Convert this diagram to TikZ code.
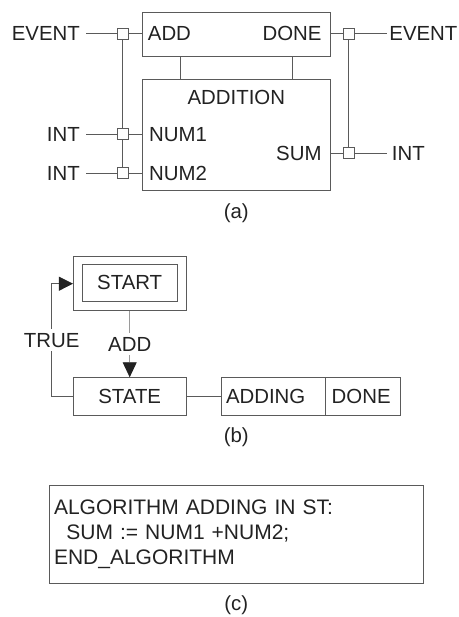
\documentclass[tikz,border=0pt]{standalone}
\usepackage{fontspec}
\setmainfont{Liberation Sans}
\usetikzlibrary{arrows.meta}
\definecolor{linec}{HTML}{5A5A5A}
\definecolor{lightline}{HTML}{9A9A9A}
\definecolor{txtc}{HTML}{222222}
\begin{document}
\begin{tikzpicture}[x=1pt,y=-1pt,
  every node/.style={font=\fontsize{20.4}{25}\selectfont, text=txtc},
  box/.style={draw=linec, line width=0.8pt, inner sep=0pt},
  port/.style={draw=linec, line width=0.8pt, fill=white, minimum size=11pt, inner sep=0pt},
  lbl/.style={inner sep=0pt, text height=14.6pt, text depth=0pt},
  wire/.style={draw=linec, line width=0.8pt}]
\useasboundingbox (0,0) rectangle (458,617);
% ---------- (a) ----------
\node[box, minimum width=187.3pt, minimum height=43.7pt] (top) at (236.35,34.15) {};
\node[box, minimum width=187.3pt, minimum height=111.7pt] (addb) at (236.35,134.85) {};
\draw[wire] ([xshift=-56.35pt]top.south) -- ([xshift=-56.35pt]addb.north);
\draw[wire] ([xshift=55.95pt]top.south) -- ([xshift=55.95pt]addb.north);
\node[port] (p1) at (122.8,33.7) {};
\node[port] (p2) at (122.8,134) {};
\node[port] (p3) at (122.8,173.3) {};
\node[port] (p4) at (348.5,33.7) {};
\node[port] (p5) at (348.5,153.3) {};
\node[lbl, anchor=east, inner xsep=6pt] (ev1) at (86,33.7) {EVENT};
\node[lbl, anchor=east, inner xsep=6pt] (in1) at (86,134) {INT};
\node[lbl, anchor=east, inner xsep=6pt] (in2) at (86,173.3) {INT};
\node[lbl, anchor=west, inner xsep=2.5pt] (ev2) at (386.7,33.7) {EVENT};
\node[lbl, anchor=west, inner xsep=5pt] (in3) at (386.7,153.3) {INT};
\draw[wire] (ev1.east) -- (p1.west);
\draw[wire] (in1.east) -- (p2.west);
\draw[wire] (in2.east) -- (p3.west);
\draw[wire] (p4.east) -- (ev2.west);
\draw[wire] (p5.east) -- (in3.west);
\draw[wire] (p1.east) -- (p1.east -| top.west);
\draw[wire] (p2.east) -- (p2.east -| addb.west);
\draw[wire] (p3.east) -- (p3.east -| addb.west);
\draw[wire] (p4.west) -- (p4.west -| top.east);
\draw[wire] (p5.west) -- (p5.west -| addb.east);
\draw[wire] (p1.south) -- (p2.north);
\draw[wire] (p2.south) -- (p3.north);
\draw[wire] (p4.south) -- (p5.north);
\node[lbl, anchor=west] (tadd) at (147.7,33.7) {ADD};
\node[lbl, anchor=east] (tdone) at (321.7,33.7) {DONE};
\node[lbl] (tadt) at (236.3,97.3) {ADDITION};
\node[lbl, anchor=west] (tn1) at (149,134) {NUM1};
\node[lbl, anchor=west] (tn2) at (149,173.3) {NUM2};
\node[lbl, anchor=east] (tsum) at (321.7,153.3) {SUM};
\node (capa) at (236.3,213) {(a)};
% ---------- (b) ----------
\node[box, minimum width=112.7pt, minimum height=54pt] (so) at (129.7,283.7) {};
\node[box, minimum width=94.7pt, minimum height=37pt] (si) at (129.7,282.8) {};
\node[lbl] (tstart) at (129.7,282.3) {START};
\node[box, minimum width=112.7pt, minimum height=37.3pt] (state) at (129.7,396.3) {};
\node[lbl] (tstate) at (129.7,396.3) {STATE};
\node[box, minimum width=104.7pt, minimum height=37.3pt, text width=94.7pt, inner xsep=5pt, align=left, text height=14.6pt, text depth=0pt] (adding) at (273.35,396.3) {ADDING};
\node[box, minimum width=75pt, minimum height=37.3pt, text width=63pt, inner xsep=6pt, align=left, text height=14.6pt, text depth=0pt] (bdone) at (363.2,396.3) {DONE};
\draw[draw=lightline, line width=0.8pt, -{Triangle[length=15pt,width=14pt,fill=txtc,color=txtc]}] (so.south) -- node[fill=white, lbl, inner ysep=4pt] (tadd2) {ADD} (state.north);
\coordinate (tc) at (51.7,396.3);
\draw[wire, -{Triangle[length=14pt,width=14pt,fill=txtc,color=txtc]}] (state.west) -- (tc) |- node[pos=0.25, fill=white, lbl, inner ysep=4pt] (ttrue) {TRUE} (so.west);
\draw[wire] (state.east) -- (adding.west);
\node (capb) at (236.3,437) {(b)};
% ---------- (c) ----------
\node[box, minimum width=374.3pt, minimum height=97.6pt, text width=364.3pt, inner xsep=5pt, align=left, font=\fontsize{21}{25}\selectfont] (algo) at (236.2,534.5) {ALGORITHM ADDING IN ST:\\\hspace*{12.4pt}SUM := NUM1 +NUM2;\\END\_ALGORITHM};
\node (capc) at (236.3,605.7) {(c)};
\end{tikzpicture}
\end{document}
